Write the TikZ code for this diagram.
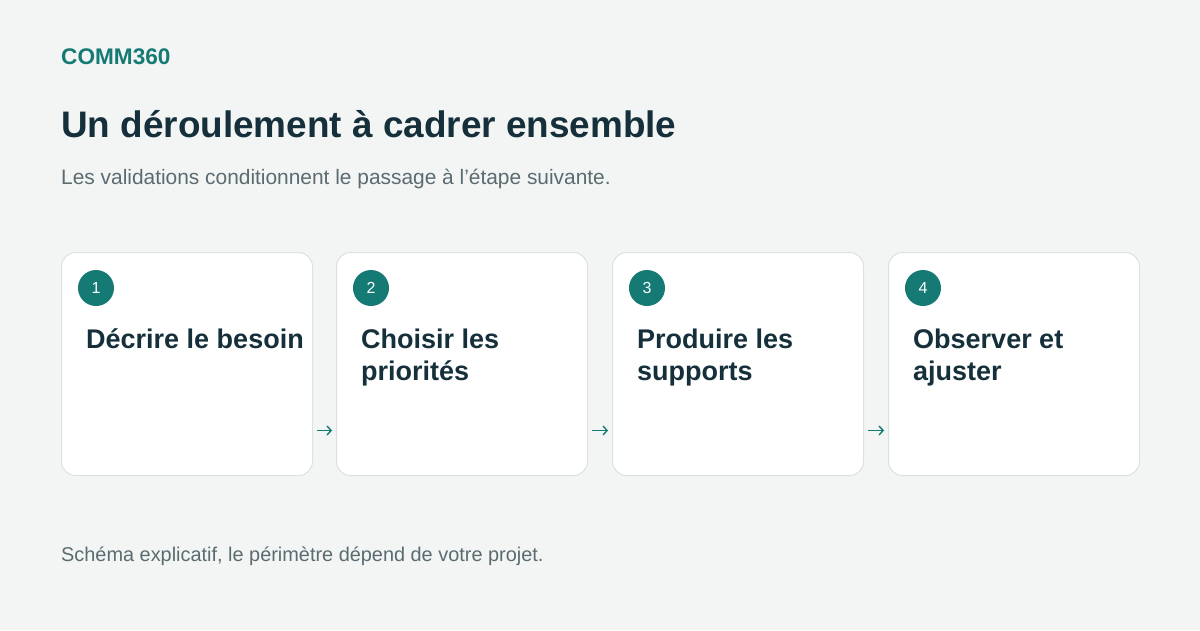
\documentclass[tikz,border=0pt]{standalone}
\usepackage{fontspec}
\setmainfont{Liberation Sans}
\usetikzlibrary{arrows.meta}
\definecolor{pagebg}{HTML}{F3F5F4}
\definecolor{teal}{HTML}{147A73}
\definecolor{ink}{HTML}{15303B}
\definecolor{muted}{HTML}{5B6B70}
\definecolor{cardline}{HTML}{DAE3E1}
\begin{document}
\begin{tikzpicture}[x=1pt, y=-1pt,
  card/.style={draw=cardline, line width=1pt, fill=white, rounded corners=14pt,
    minimum width=251pt, minimum height=223pt, anchor=north west, inner sep=0pt},
  badge/.style={circle, fill=teal, minimum size=36pt, inner sep=0pt,
    text=white, font=\fontsize{16}{16}\selectfont},
  cardtitle/.style={anchor=base west, inner sep=0pt, text=ink,
    font=\fontsize{27}{32}\selectfont\bfseries},
  flow/.style={draw=teal, line width=1.4pt, -{Straight Barb[length=4pt, width=9pt]},
    shorten <=4pt, shorten >=4pt}]
  \fill[pagebg] (0,0) rectangle (1200,630);
  \node[anchor=base west, inner sep=0pt, text=teal, font=\fontsize{22.6}{22.6}\selectfont\bfseries]
    (brand) at (61,64) {COMM360};
  \node[anchor=base west, inner sep=0pt, text=ink, font=\fontsize{36.9}{36.9}\selectfont\bfseries]
    (title) at (61,137) {Un déroulement à cadrer ensemble};
  \node[anchor=base west, inner sep=0pt, text=muted, font=\fontsize{20.9}{20.9}\selectfont]
    (subtitle) at (61,184) {Les validations conditionnent le passage à l’étape suivante.};
  \foreach \i/\x/\txt in {1/61/{Décrire le besoin}, 2/336/{Choisir les\\priorités},
      3/612/{Produire les\\supports}, 4/888/{Observer et\\ajuster}} {
    \node[card] (card\i) at (\x,252) {};
    \node[badge] (num\i) at (\x+35,288) {\i};
    \node[cardtitle] (step\i) at (\x+25,348) {\parbox[t]{240pt}{\raggedright\txt}};
  }
  \draw[flow] ([yshift=-66.5pt]card1.east) -- ([yshift=-66.5pt]card2.west);
  \draw[flow] ([yshift=-66.5pt]card2.east) -- ([yshift=-66.5pt]card3.west);
  \draw[flow] ([yshift=-66.5pt]card3.east) -- ([yshift=-66.5pt]card4.west);
  \node[anchor=base west, inner sep=0pt, text=muted, font=\fontsize{19.9}{19.9}\selectfont]
    (note) at (61,561) {Schéma explicatif, le périmètre dépend de votre projet.};
\end{tikzpicture}
\end{document}
